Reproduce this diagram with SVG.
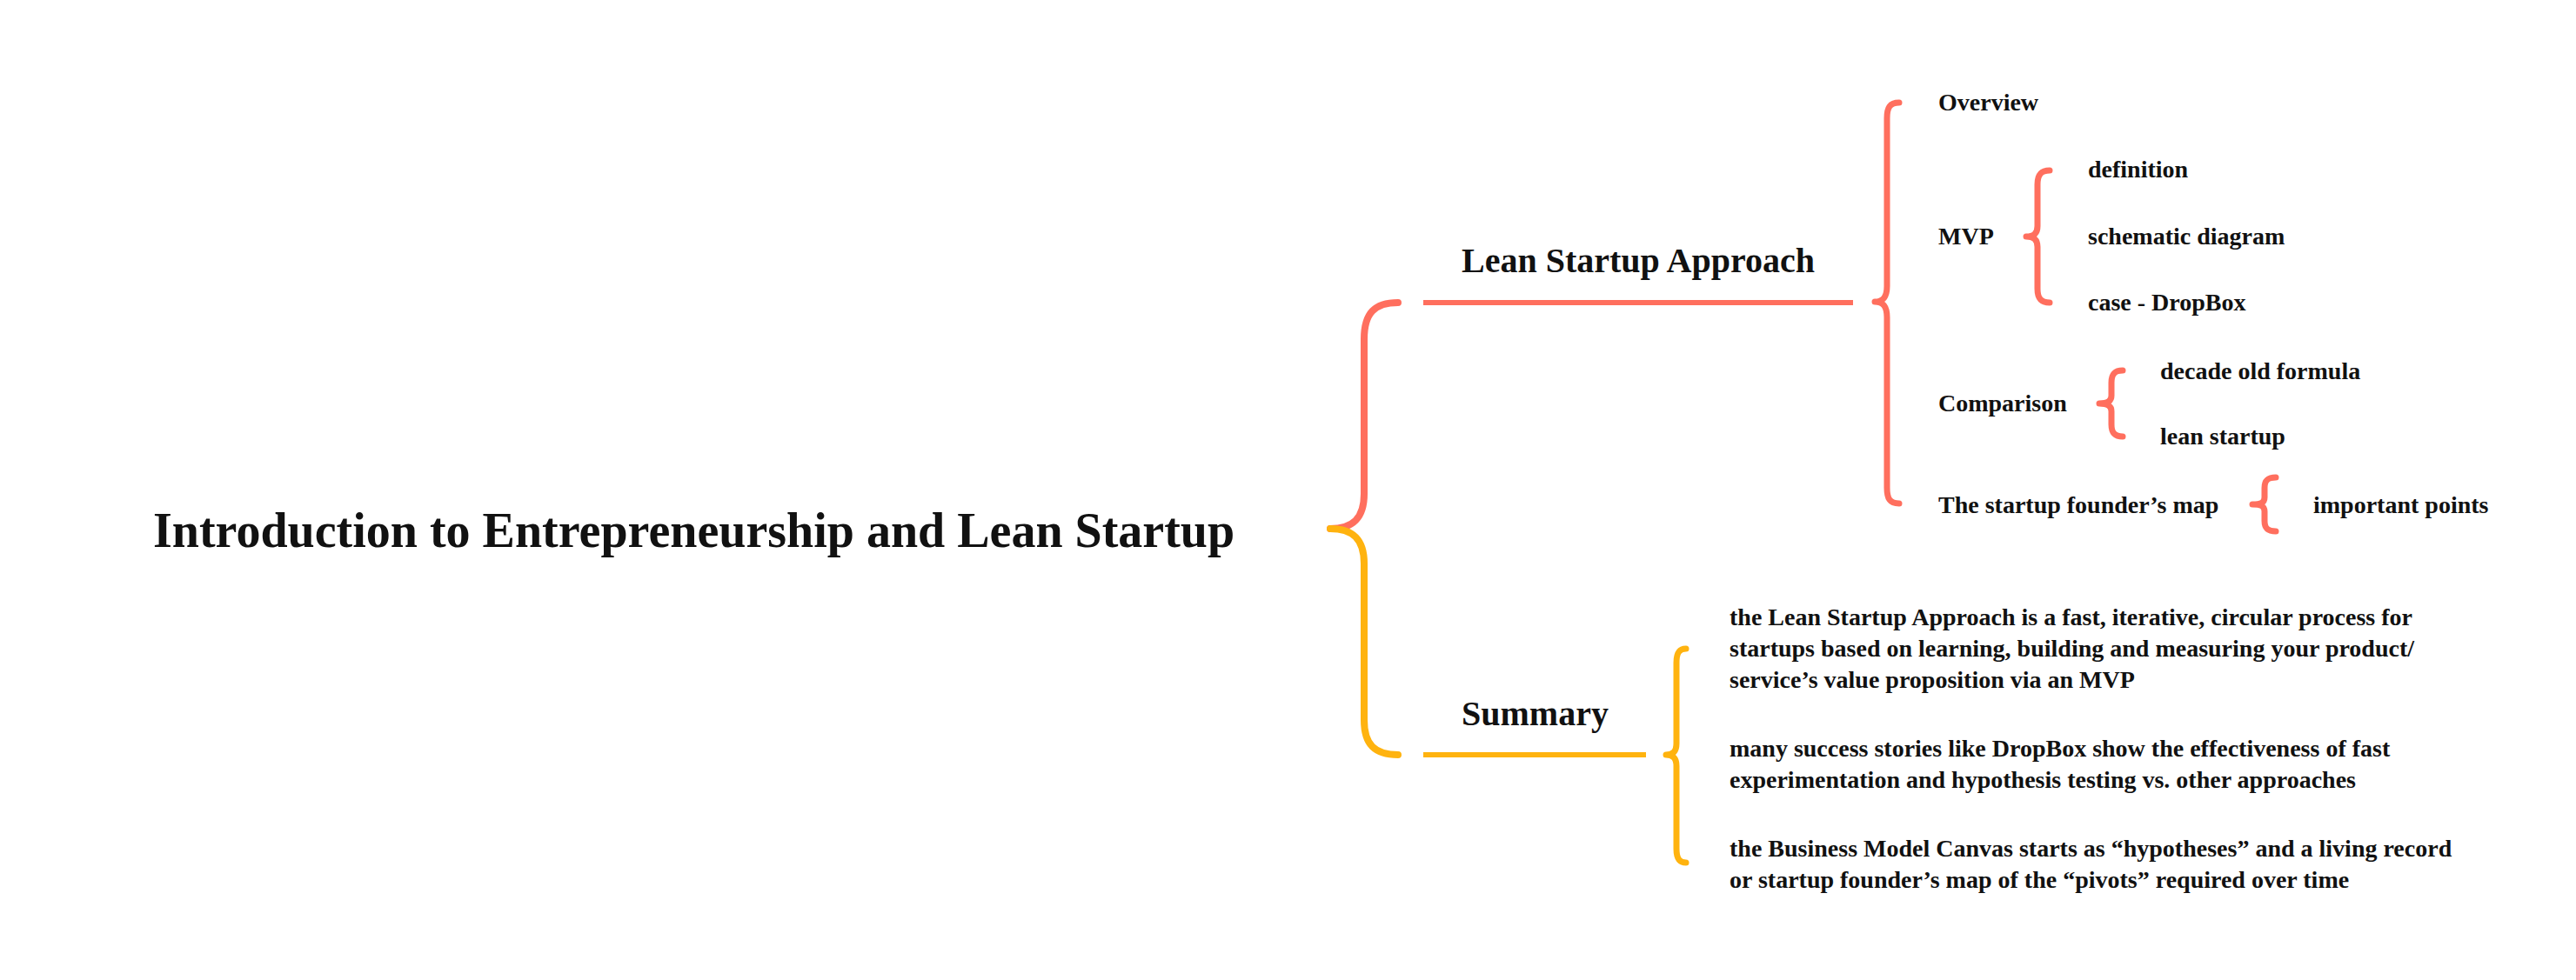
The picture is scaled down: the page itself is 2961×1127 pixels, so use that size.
<svg xmlns="http://www.w3.org/2000/svg" width="2961" height="1127" viewBox="0 0 2961 1127">
<style>
text{font-family:"Liberation Serif","Times New Roman",serif;font-weight:bold;fill:#111}
.t0{font-size:56px}
.t1{font-size:40px}
.t2{font-size:28px}
.t3{font-size:28px}
.br{fill:none;stroke-linecap:round;stroke-linejoin:round}
.red{stroke:#FF6F5E}
.yel{stroke:#FFB30F}
.ln{fill:none;stroke-width:6}
</style>
<rect width="2961" height="1127" fill="#fff"/>
<g id="connectors">
<path class="br red" stroke-width="8" d="M1607,348 C1580,348 1568,360 1568,390 L1568,568 C1568,596 1555,608 1529,608"/>
<path class="br yel" stroke-width="8" d="M1529,608 C1555,608 1568,620 1568,648 L1568,828 C1568,856 1580,868 1607,868"/>
<line class="ln red" x1="1636" y1="348" x2="2130" y2="348"/>
<line class="ln yel" x1="1636" y1="868" x2="1892" y2="868"/>
<path class="br red" stroke-width="7" d="M2183,118 C2172,118 2169,124 2169,136 L2169,329 C2169,341 2165,347 2155,347 C2165,347 2169,353 2169,365 L2169,561 C2169,573 2172,579 2183,579"/>
<path class="br red" stroke-width="7" d="M2356,196 C2345,196 2342,202 2342,212 L2342,260 C2342,268 2338,272 2329,272 C2338,272 2342,276 2342,284 L2342,332 C2342,342 2345,348 2356,348"/>
<path class="br red" stroke-width="7" d="M2440,426 C2430,426 2427,431 2427,440 L2427,455 C2427,461 2423,464 2413,464 C2423,464 2427,467 2427,473 L2427,488 C2427,497 2430,502 2440,502"/>
<path class="br red" stroke-width="7" d="M2616,549 C2606,549 2603,553 2603,561 L2603,572 C2603,578 2599,580 2589,580 C2599,580 2603,582 2603,588 L2603,599 C2603,607 2606,611 2616,611"/>
<path class="br yel" stroke-width="7" d="M1938,746 C1930,746 1927,751 1927,762 L1927,855 C1927,864 1923,868 1915,868 C1923,868 1927,872 1927,881 L1927,976 C1927,987 1930,992 1938,992"/>
</g>
<g id="root"><text class="t0" x="176" y="629">Introduction to Entrepreneurship and Lean Startup</text></g>
<g id="lean"><text class="t1" x="1680" y="313">Lean Startup Approach</text></g>
<g id="summary"><text class="t1" x="1680" y="834">Summary</text></g>
<g id="overview"><text class="t2" x="2228" y="127">Overview</text></g>
<g id="mvp"><text class="t2" x="2228" y="281">MVP</text></g>
<g id="definition"><text class="t2" x="2400" y="204">definition</text></g>
<g id="schematic"><text class="t2" x="2400" y="281">schematic diagram</text></g>
<g id="case"><text class="t2" x="2400" y="357">case - DropBox</text></g>
<g id="comparison"><text class="t2" x="2228" y="473">Comparison</text></g>
<g id="decade"><text class="t2" x="2483" y="436">decade old formula</text></g>
<g id="leanstartup"><text class="t2" x="2483" y="511">lean startup</text></g>
<g id="founder"><text class="t2" x="2228" y="590">The startup founder’s map</text></g>
<g id="important"><text class="t2" x="2659" y="590">important points</text></g>
<g id="sum1"><text class="t3" x="1988"><tspan x="1988" y="719">the Lean Startup Approach is a fast, iterative, circular process for</tspan><tspan x="1988" y="755">startups based on learning, building and measuring your product/</tspan><tspan x="1988" y="791">service’s value proposition via an MVP</tspan></text></g>
<g id="sum2"><text class="t3" x="1988"><tspan x="1988" y="870">many success stories like DropBox show the effectiveness of fast</tspan><tspan x="1988" y="906">experimentation and hypothesis testing vs. other approaches</tspan></text></g>
<g id="sum3"><text class="t3" x="1988"><tspan x="1988" y="985">the Business Model Canvas starts as “hypotheses” and a living record</tspan><tspan x="1988" y="1021">or startup founder’s map of the “pivots” required over time</tspan></text></g>
</svg>
